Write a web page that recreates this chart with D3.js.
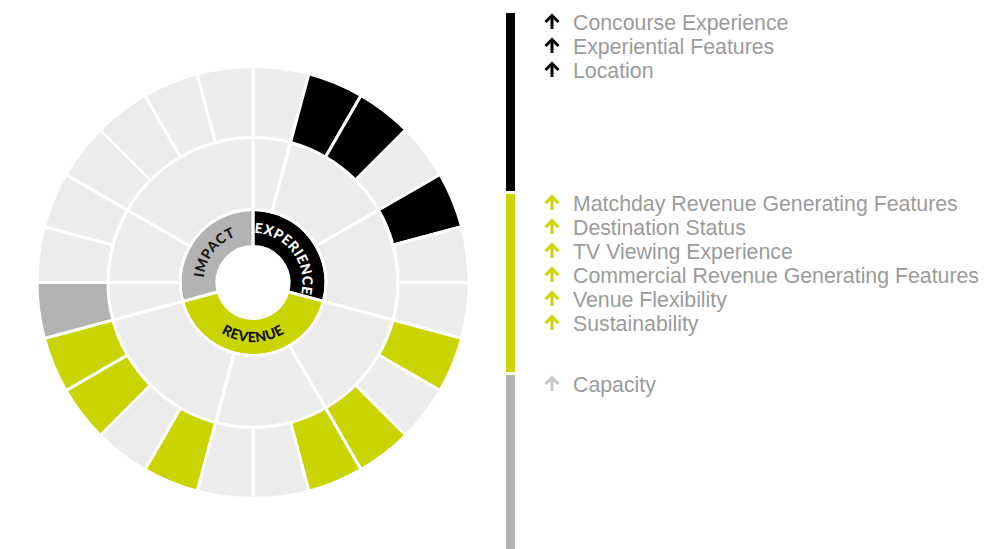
<!DOCTYPE html>
<html>
<head>
<meta charset="utf-8">
<script src="https://cdn.jsdelivr.net/npm/d3@7"></script>
<style>
  body { margin: 0; background: #fff; }
  svg { display: block; }
  .legend-text { font-family: "Liberation Sans", Arial, sans-serif; font-size: 21.3px; fill: #9b9b9b; }
  .cat-label { font-family: Lato, "DejaVu Sans", sans-serif; font-weight: 900; font-size: 14px; letter-spacing: 0.4px; }
</style>
</head>
<body>
<div id="main"></div>
<script>
// top level categories (inner ring)
var categories = ['EXPERIENCE', 'REVENUE', 'IMPACT'];
var categoryColors = ['#000000', '#c9d400', '#b3b3b3'];
var arrowColors = ['#000000', '#c9d400', '#c8c8c8'];
// middle ring: number of outer segments under each group
var groupSizes = [[1, 3, 3], [3, 3, 4], [1, 2, 4]];
// outer ring: 1 = highlighted in category colour, 0 = neutral
var outerExperience = [0, 1, 1, 0, 1, 0, 0];
var outerRevenue = [1, 0, 1, 1, 0, 0, 1, 0, 1, 1];
var outerImpact = [1, 0, 0, 0, 0, 0, 0];
// legend entries
var legendExperience = ['Concourse Experience', 'Experiential Features', 'Location'];
var legendRevenue = ['Matchday Revenue Generating Features', 'Destination Status', 'TV Viewing Experience',
  'Commercial Revenue Generating Features', 'Venue Flexibility', 'Sustainability'];
var legendImpact = ['Capacity'];

var outerStatus = [outerExperience, outerRevenue, outerImpact];
var legendItems = [legendExperience, legendRevenue, legendImpact];

var width = 1006, height = 549;
var cx = 253, cy = 282.5;
var lightFill = '#ececec';

var svg = d3.select('#main').append('svg')
  .attr('width', width)
  .attr('height', height);

// build hierarchy from the arrays
var treeData = {name: 'root', children: categories.map(function(c, ci) {
  var k = 0;
  return {name: c, cat: ci, children: groupSizes[ci].map(function(n) {
    var leaves = [];
    for (var j = 0; j < n; j++) {
      leaves.push({cat: ci, on: outerStatus[ci][k], value: 1});
      k++;
    }
    return {cat: ci, children: leaves};
  })};
})};

var root = d3.hierarchy(treeData).sum(function(d) { return d.value || 0; });
d3.partition().size([2 * Math.PI, 4])(root);

var radius = d3.scaleLinear().domain([1, 2, 3, 4]).range([36, 73, 145, 216]);

var arc = d3.arc()
  .startAngle(function(d) { return d.x0; })
  .endAngle(function(d) { return d.x1; })
  .innerRadius(function(d) { return radius(d.y0); })
  .outerRadius(function(d) { return radius(d.y1); });

var chart = svg.append('g')
  .attr('transform', 'translate(' + [cx, cy] + ')');

chart.selectAll('path.seg')
  .data(root.descendants().filter(function(d) { return d.depth > 0; }))
  .enter()
  .append('path')
  .attr('class', 'seg')
  .attr('d', arc)
  .attr('fill', function(d) {
    if (d.depth == 1) return categoryColors[d.data.cat];
    if (d.depth == 3 && d.data.on) return categoryColors[d.data.cat];
    return lightFill;
  })
  .attr('stroke', '#fff')
  .attr('stroke-width', 3);

// curved labels on inner ring
var labelColors = ['#ffffff', '#111111', '#1a1a1a'];
var defs = svg.append('defs');
root.children.forEach(function(d, i) {
  var mid = (d.x0 + d.x1) / 2;
  var flip = mid > Math.PI / 2 && mid < 3 * Math.PI / 2;
  var r = flip ? 59.5 : 49.5;
  var a0 = d.x0 + 0.02, a1 = d.x1 - 0.02;
  var p = function(a) { return [r * Math.sin(a), -r * Math.cos(a)]; };
  var large = (a1 - a0) > Math.PI ? 1 : 0;
  var path;
  if (!flip) {
    path = 'M' + p(a0) + 'A' + r + ',' + r + ' 0 ' + large + ' 1 ' + p(a1);
  } else {
    path = 'M' + p(a1) + 'A' + r + ',' + r + ' 0 ' + large + ' 0 ' + p(a0);
  }
  defs.append('path').attr('id', 'lbl' + i).attr('d', path);
  chart.append('text')
    .attr('class', 'cat-label')
    .attr('fill', labelColors[i])
    .append('textPath')
    .attr('href', '#lbl' + i)
    .attr('startOffset', '50%')
    .attr('text-anchor', 'middle')
    .text(d.data.name);
});

// legend
var barX = 506, barW = 9, barTop = 13, barH = 178, barGap = 3;
var legendY = d3.scaleLinear().domain([0, 1]).range([barTop, barTop + barH + barGap]);
var lineH = 24;

var legend = svg.append('g');
legend.selectAll('rect')
  .data(categories)
  .enter()
  .append('rect')
  .attr('x', barX)
  .attr('y', function(d, i) { return legendY(i); })
  .attr('width', barW)
  .attr('height', barH)
  .attr('fill', function(d, i) { return categoryColors[i]; });

var arrowPath = 'M0,-0.5 L0,-14 M-6.5,-7.5 L0,-14 L6.5,-7.5';

legendItems.forEach(function(items, ci) {
  var g = legend.append('g')
    .attr('transform', 'translate(0,' + (legendY(ci) + 16.5) + ')');
  var row = g.selectAll('g')
    .data(items)
    .enter()
    .append('g')
    .attr('transform', function(d, i) { return 'translate(0,' + (i * lineH) + ')'; });
  row.append('path')
    .attr('d', arrowPath)
    .attr('transform', 'translate(552,0)')
    .attr('fill', 'none')
    .attr('stroke', arrowColors[ci])
    .attr('stroke-width', 3);
  row.append('text')
    .attr('class', 'legend-text')
    .attr('x', 573)
    .attr('y', 0)
    .text(function(d) { return d; });
});
</script>
</body>
</html>
